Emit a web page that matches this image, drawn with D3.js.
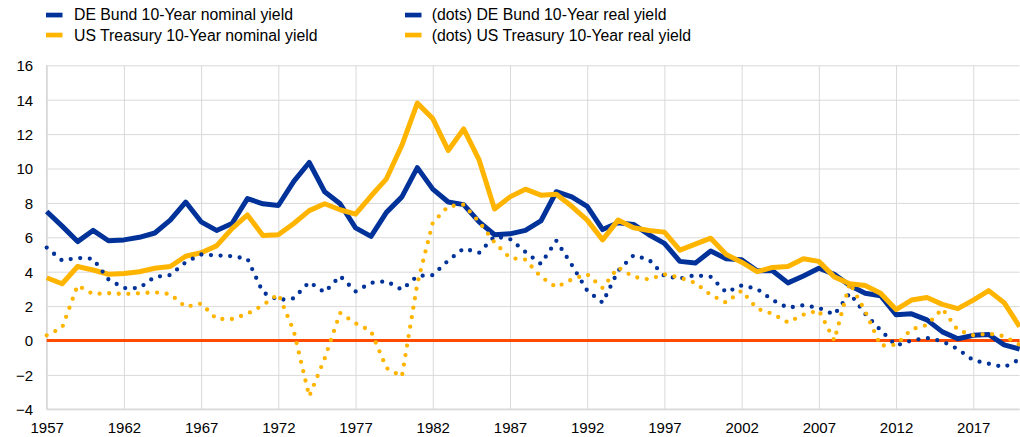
<!DOCTYPE html>
<html>
<head>
<meta charset="utf-8">
<script src="https://cdn.jsdelivr.net/npm/d3@7"></script>
<style>
  html, body { margin: 0; padding: 0; background: #fff; }
  svg { display: block; font-family: "Liberation Sans", Arial, sans-serif; }
</style>
</head>
<body>
<svg id="chart" width="1020" height="437"></svg>
<script>
const years = d3.range(1957, 2021);
const xTickYears = [1957, 1962, 1967, 1972, 1977, 1982, 1987, 1992, 1997, 2002, 2007, 2012, 2017];
const yTicks = [-4, -2, 0, 2, 4, 6, 8, 10, 12, 14, 16];

const deNominal = [7.5, 6.65, 5.75, 6.4, 5.8, 5.85, 6.0, 6.25, 7.0, 8.05,
  6.9, 6.4, 6.8, 8.25, 7.95, 7.85, 9.25, 10.35, 8.65, 7.95,
  6.55, 6.05, 7.45, 8.35, 10.05, 8.8, 8.05, 7.9, 6.9, 6.15,
  6.2, 6.4, 6.95, 8.65, 8.35, 7.8, 6.45, 6.85, 6.75, 6.15,
  5.65, 4.6, 4.5, 5.2, 4.75, 4.7, 4.05, 4.05, 3.35, 3.75,
  4.2, 3.85, 3.2, 2.75, 2.6, 1.5, 1.55, 1.2, 0.5, 0.1,
  0.3, 0.35, -0.25, -0.5];

const usNominal = [3.65, 3.3, 4.3, 4.1, 3.85, 3.9, 4.0, 4.2, 4.3, 4.9,
  5.1, 5.5, 6.5, 7.3, 6.1, 6.15, 6.8, 7.55, 7.95, 7.6,
  7.35, 8.4, 9.4, 11.35, 13.8, 12.9, 11.05, 12.3, 10.5, 7.65,
  8.35, 8.8, 8.45, 8.5, 7.8, 7.0, 5.85, 7.0, 6.55, 6.4,
  6.3, 5.25, 5.6, 5.95, 5.0, 4.55, 4.0, 4.25, 4.3, 4.75,
  4.6, 3.7, 3.3, 3.2, 2.75, 1.8, 2.35, 2.5, 2.1, 1.85,
  2.35, 2.9, 2.2, 0.8];

const deReal = [5.4, 4.65, 4.8, 4.75, 3.55, 3.05, 3.05, 3.7, 3.8, 4.55,
  5.0, 4.95, 4.9, 4.75, 2.8, 2.35, 2.45, 3.4, 2.8, 3.75,
  2.85, 3.35, 3.45, 2.95, 3.75, 3.8, 4.65, 5.35, 5.1, 6.05,
  5.9, 5.15, 4.45, 5.8, 4.4, 2.9, 2.2, 4.05, 4.95, 4.7,
  3.75, 3.6, 3.8, 3.7, 2.8, 3.2, 3.0, 2.35, 1.9, 2.05,
  1.9, 1.5, 2.75, 1.55, 0.6, -0.3, 0.0, 0.15, -0.05, -0.5,
  -1.15, -1.35, -1.55, -1.1];

const usReal = [0.3, 0.75, 3.2, 2.7, 2.75, 2.7, 2.75, 2.8, 2.7, 1.95,
  2.15, 1.25, 1.25, 1.55, 2.05, 2.7, 0.55, -3.25, -1.05, 1.6,
  1.0, 0.55, -1.6, -2.1, 3.3, 6.85, 7.8, 7.9, 6.9, 5.7,
  4.8, 4.7, 3.7, 3.1, 3.55, 3.85, 3.05, 4.25, 3.7, 3.55,
  3.85, 3.65, 3.35, 2.65, 2.2, 2.9, 1.85, 1.55, 1.05, 1.5,
  1.75, 0.0, 3.35, 1.7, -0.3, -0.25, 0.65, 0.9, 1.85, 0.6,
  0.3, 0.4, 0.25, -0.25];

const seriesNames = ["DE Bund 10-Year nominal yield", "US Treasury 10-Year nominal yield",
  "(dots) DE Bund 10-Year real yield", "(dots) US Treasury 10-Year real yield"];

const BLUE = "#003299", YELLOW = "#ffb400", RED = "#ff4b00", GRID = "#d9d9d9";

const svg = d3.select("#chart");
const x = d3.scaleLinear().domain([1957, 2020]).range([46.7, 1019.6]);
const y = d3.scaleLinear().domain([-4, 16]).range([409.3, 65.3]);

// gridlines via axes
const yGrid = svg.append("g")
  .attr("transform", `translate(${x(1957)},0)`)
  .call(d3.axisLeft(y).tickValues(yTicks).tickSize(-(x(2020) - x(1957))).tickFormat(""));
yGrid.select(".domain").remove();
yGrid.selectAll("line").attr("stroke", GRID).attr("stroke-width", 1);

const xGrid = svg.append("g")
  .attr("transform", `translate(0,${y(-4)})`)
  .call(d3.axisBottom(x).tickValues(xTickYears).tickSize(-(y(-4) - y(16))).tickFormat(""));
xGrid.select(".domain").remove();
xGrid.selectAll("line").attr("stroke", GRID).attr("stroke-width", 1);

// axis lines
svg.append("line").attr("x1", x(1957)).attr("x2", x(2020)).attr("y1", y(-4)).attr("y2", y(-4))
  .attr("stroke", GRID).attr("stroke-width", 1.5);
svg.append("line").attr("x1", x(1957)).attr("x2", x(1957)).attr("y1", y(16)).attr("y2", y(-4))
  .attr("stroke", GRID).attr("stroke-width", 1.5);

// tick labels
const yAxis = svg.append("g")
  .attr("transform", `translate(${x(1957) - 13.5},0)`)
  .call(d3.axisLeft(y).tickValues(yTicks).tickSize(0).tickPadding(0).tickFormat(d3.format("d")));
yAxis.select(".domain").remove();
yAxis.selectAll("text").attr("font-size", 15).attr("fill", "#000")
  .attr("font-family", "Liberation Sans, Arial, sans-serif").attr("dy", "0.36em");

const xAxis = svg.append("g")
  .attr("transform", `translate(0,${y(-4)})`)
  .call(d3.axisBottom(x).tickValues(xTickYears).tickSize(0).tickPadding(0).tickFormat(d3.format("d")));
xAxis.select(".domain").remove();
xAxis.selectAll("text").attr("font-size", 15).attr("fill", "#000")
  .attr("font-family", "Liberation Sans, Arial, sans-serif").attr("dy", null).attr("y", 23.8);

// zero line
svg.append("line").attr("x1", x(1957)).attr("x2", x(2020)).attr("y1", y(0)).attr("y2", y(0))
  .attr("stroke", RED).attr("stroke-width", 3);

const line = d3.line().x((d, i) => x(years[i])).y(d => y(d));

function drawSolid(data, color) {
  svg.append("path").datum(data).attr("d", line)
    .attr("fill", "none").attr("stroke", color).attr("stroke-width", 5)
    .attr("stroke-linejoin", "round");
}
function drawDots(data, color) {
  svg.append("path").datum(data).attr("d", line)
    .attr("fill", "none").attr("stroke", color).attr("stroke-width", 4.3)
    .attr("stroke-linecap", "round").attr("stroke-dasharray", "0 9.6");
}
drawSolid(deNominal, BLUE);
drawSolid(usNominal, YELLOW);
drawDots(deReal, BLUE);
drawDots(usReal, YELLOW);

// legend
const legendItems = [
  { name: seriesNames[0], color: BLUE, lx: 46, ly: 12.7, tx: 74, ty: 20 },
  { name: seriesNames[1], color: YELLOW, lx: 46, ly: 32.7, tx: 74, ty: 40.7 },
  { name: seriesNames[2], color: BLUE, lx: 405, ly: 12.7, tx: 431.7, ty: 20 },
  { name: seriesNames[3], color: YELLOW, lx: 405, ly: 32.7, tx: 431.7, ty: 40.7 }
];
const lg = svg.append("g");
legendItems.forEach(it => {
  lg.append("rect").attr("x", it.lx).attr("y", it.ly).attr("width", 16.5).attr("height", 4.7)
    .attr("fill", it.color);
  lg.append("text")
    .attr("x", it.tx).attr("y", it.ty)
    .attr("font-size", 15.8).attr("fill", "#000")
    .text(it.name);
});
</script>
</body>
</html>
